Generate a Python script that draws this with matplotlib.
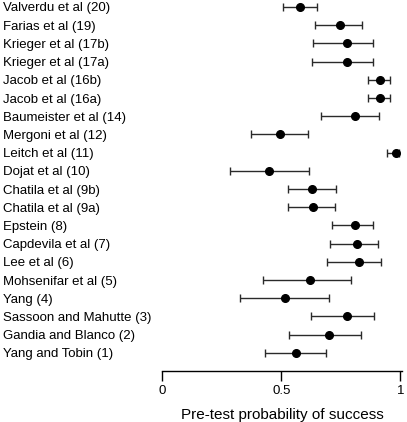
import matplotlib
matplotlib.use("Agg")
import matplotlib.pyplot as plt

plt.rcParams['font.family'] = ['Liberation Sans', 'DejaVu Sans']

studies = ["Valverdu et al (20)", "Farias et al (19)", "Krieger et al (17b)",
           "Krieger et al (17a)", "Jacob et al (16b)", "Jacob et al (16a)",
           "Baumeister et al (14)", "Mergoni et al (12)", "Leitch et al (11)",
           "Dojat et al (10)", "Chatila et al (9b)", "Chatila et al (9a)",
           "Epstein (8)", "Capdevila et al (7)", "Lee et al (6)",
           "Mohsenifar et al (5)", "Yang (4)", "Sassoon and Mahutte (3)",
           "Gandia and Blanco (2)", "Yang and Tobin (1)"]
estimate = [0.580, 0.748, 0.774, 0.777, 0.916, 0.916, 0.809, 0.494, 0.980, 0.449,
            0.628, 0.631, 0.809, 0.819, 0.826, 0.621, 0.514, 0.777, 0.700, 0.561]
lower = [0.509, 0.642, 0.633, 0.628, 0.864, 0.864, 0.665, 0.373, 0.945, 0.285,
         0.527, 0.528, 0.714, 0.704, 0.693, 0.424, 0.327, 0.626, 0.534, 0.431]
upper = [0.648, 0.837, 0.885, 0.885, 0.955, 0.955, 0.910, 0.612, 0.994, 0.616,
         0.728, 0.724, 0.885, 0.906, 0.920, 0.794, 0.699, 0.888, 0.836, 0.686]

fig = plt.figure(figsize=(4.07, 4.22), dpi=100)
ax = fig.add_axes([162.3 / 407, 1 - 371 / 422, 240 / 407, 371 / 422])

rows = list(range(len(studies)))
err_lo = [e - l for e, l in zip(estimate, lower)]
err_hi = [u - e for e, u in zip(estimate, upper)]
ax.errorbar(estimate, rows, xerr=[err_lo, err_hi], fmt='o', color='black',
            ecolor='#2a2a2a', elinewidth=1, capsize=3, capthick=1, markersize=5.5)

ax.set_xlim(0, 1.008)
ax.set_ylim(20, -7 / 18.2)
ax.set_yticks(rows)
ax.set_yticklabels(studies, ha='left', fontsize=9.5)
ax.tick_params(axis='y', length=0, pad=115)
ax.set_xticks([0, 0.5, 1])
ax.set_xticklabels(["0", "0.5", "1"], fontsize=9.5)
ax.tick_params(axis='x', length=7, width=1, pad=3)
ax.set_xlabel("Pre-test probability of success", fontsize=11, labelpad=8)

for side in ['left', 'right', 'top']:
    ax.spines[side].set_visible(False)
ax.spines['bottom'].set_linewidth(1)

fig.savefig("out.png", dpi=100)
